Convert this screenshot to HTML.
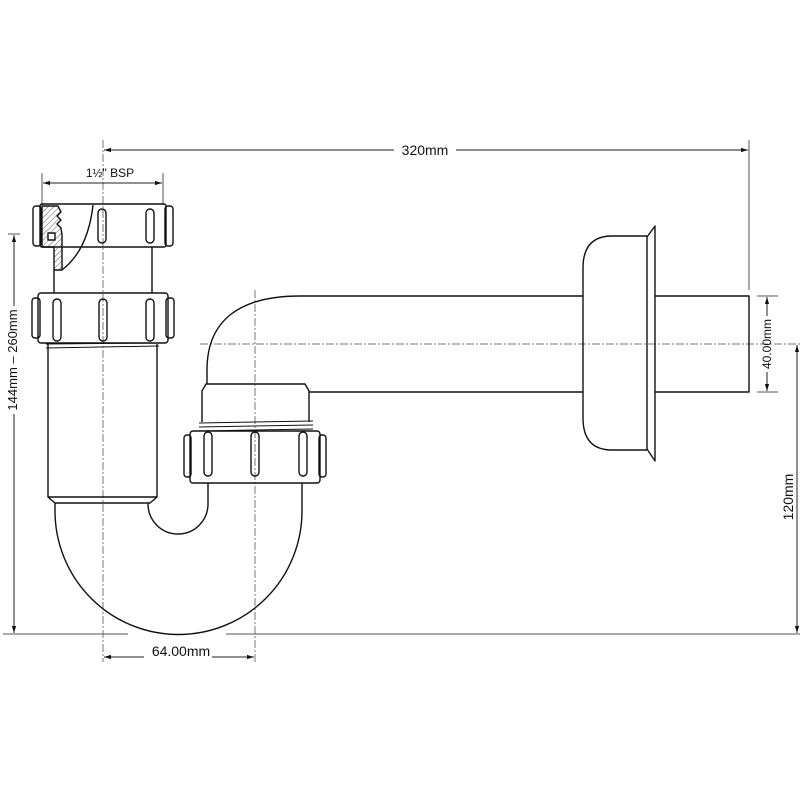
<!DOCTYPE html>
<html><head><meta charset="utf-8"><style>
html,body{margin:0;padding:0;background:#fff;}
svg{display:block;}
text{font-family:"Liberation Sans",Arial,sans-serif;fill:#111;}
</style></head><body>
<svg width="800" height="800" viewBox="0 0 800 800" xmlns="http://www.w3.org/2000/svg">
<defs>
<pattern id="hatch" width="4" height="4" patternUnits="userSpaceOnUse" patternTransform="rotate(45)">
<line x1="0" y1="0" x2="0" y2="4" stroke="#333" stroke-width="0.8"/>
</pattern>
<marker id="ah" viewBox="0 0 10 10" refX="10" refY="5" markerWidth="7" markerHeight="7" orient="auto-start-reverse">
<path d="M0,2 L10,5 L0,8 z" fill="#111"/>
</marker>
</defs>

<!-- centre lines -->
<g stroke="#777" stroke-width="1" stroke-dasharray="8,2,2,2" fill="none">
<line x1="103" y1="140" x2="103" y2="662"/>
<line x1="255" y1="290" x2="255" y2="662"/>
<line x1="200" y1="344" x2="800" y2="344"/>
</g>

<!-- dimension / extension lines -->
<g stroke="#555" stroke-width="1" fill="none">
<line x1="749" y1="140" x2="749" y2="290"/>
<line x1="42" y1="173" x2="42" y2="205"/>
<line x1="163" y1="173" x2="163" y2="205"/>
<line x1="3" y1="634" x2="128" y2="634"/>
<line x1="226" y1="634" x2="800" y2="634"/>
<line x1="8" y1="234" x2="20" y2="234"/>
<line x1="757" y1="296" x2="778" y2="296"/>
<line x1="757" y1="392" x2="778" y2="392"/>
</g>
<g stroke="#222" stroke-width="1" fill="none">
<line x1="104" y1="150" x2="394" y2="150" marker-start="url(#ah)"/>
<line x1="456" y1="150" x2="748" y2="150" marker-end="url(#ah)"/>
<line x1="43" y1="183" x2="162" y2="183" marker-start="url(#ah)" marker-end="url(#ah)"/>
<line x1="14" y1="235" x2="14" y2="306" marker-start="url(#ah)"/>
<line x1="14" y1="414" x2="14" y2="633" marker-end="url(#ah)"/>
<line x1="104" y1="657" x2="144" y2="657" marker-start="url(#ah)"/>
<line x1="212" y1="657" x2="254" y2="657" marker-end="url(#ah)"/>
<line x1="767" y1="297" x2="767" y2="316" marker-start="url(#ah)"/>
<line x1="767" y1="372" x2="767" y2="391" marker-end="url(#ah)"/>
<line x1="797" y1="345" x2="797" y2="633" marker-start="url(#ah)" marker-end="url(#ah)"/>
</g>

<!-- labels -->
<text x="425" y="155" font-size="14" text-anchor="middle">320mm</text>
<text x="110" y="177" font-size="12" text-anchor="middle">1½" BSP</text>
<text x="181" y="656" font-size="14" text-anchor="middle">64.00mm</text>
<text transform="translate(17,360) rotate(-90)" font-size="13" text-anchor="middle">144mm – 260mm</text>
<text transform="translate(771,344) rotate(-90)" font-size="12" text-anchor="middle">40.00mm</text>
<text transform="translate(793,497) rotate(-90)" font-size="14" text-anchor="middle">120mm</text>

<g stroke="#111" stroke-width="1.4" fill="none" stroke-linejoin="round">
<!-- top nut -->
<rect x="33" y="206" width="8" height="40" rx="3"/>
<rect x="165" y="206" width="8" height="40" rx="3"/>
<rect x="40" y="204" width="126" height="43" rx="2"/>
<rect x="98" y="209" width="8" height="34" rx="4"/>
<rect x="146" y="209" width="8" height="34" rx="4"/>
<!-- hatched section -->
<path d="M42,206 L58,206 L61,212 L57,216 L61,220 L57,224 L61,228 L62,235 L62,270 L54,270 L54,247 L42,247 Z" fill="url(#hatch)"/>
<rect x="48" y="233" width="7" height="7" fill="#fff"/>
<path d="M93,205 Q88,250 62,270"/>
<!-- neck -->
<line x1="54" y1="270" x2="54" y2="293"/>
<line x1="152" y1="247" x2="152" y2="293"/>
<!-- second nut -->
<rect x="32" y="298" width="8" height="40" rx="3"/>
<rect x="166" y="298" width="8" height="40" rx="3"/>
<rect x="38" y="293" width="130" height="50" rx="3"/>
<rect x="53" y="299" width="8" height="42" rx="4"/>
<rect x="99" y="299" width="8" height="42" rx="4"/>
<rect x="146" y="299" width="8" height="42" rx="4"/>
<!-- thread band -->
<path d="M46,344 L159,343 M46,348 L159,346" stroke-width="1"/>
<!-- tube -->
<path d="M48,344 L48,497 L157,497 L157,344"/>
<path d="M48,497 L55,503 L150,503 L157,497"/>
<!-- U bend outer -->
<path d="M55,503 L55,511 A123.5,123.5 0 0 0 302,511 L302,483"/>
<!-- U bend inner -->
<path d="M148,503 L148,504 A30,30 0 0 0 208,504 L208,483"/>
<!-- right nut -->
<rect x="184" y="435" width="7" height="42" rx="3"/>
<rect x="319" y="435" width="7" height="42" rx="3"/>
<rect x="190" y="431" width="130" height="52" rx="3"/>
<rect x="204" y="432" width="8" height="44" rx="4"/>
<rect x="251" y="432" width="8" height="44" rx="4"/>
<rect x="299" y="432" width="8" height="44" rx="4"/>
<path d="M199,423 L313,421 M199,427 L313,425 M199,431 L313,429" stroke-width="1"/>
<!-- cap above nut -->
<path d="M202,422 L202,391 L206,384 L305,384 L309,391 L309,422"/>
<!-- elbow & horizontal pipe -->
<path d="M207,384 L207,370 C207,320 240,296 300,296 L583,296"/>
<path d="M309,392 L583,392"/>
<!-- escutcheon -->
<path d="M647,236 L612,236 Q583,236 583,268 L583,418 Q583,450 612,450 L647,450"/>
<line x1="647" y1="236" x2="647" y2="450"/>
<path d="M647,237 L655,226 L655,461 L647,449"/>
<!-- pipe beyond wall -->
<path d="M655,296 L749,296 L749,392 L655,392"/>
</g>
</svg>
</body></html>
